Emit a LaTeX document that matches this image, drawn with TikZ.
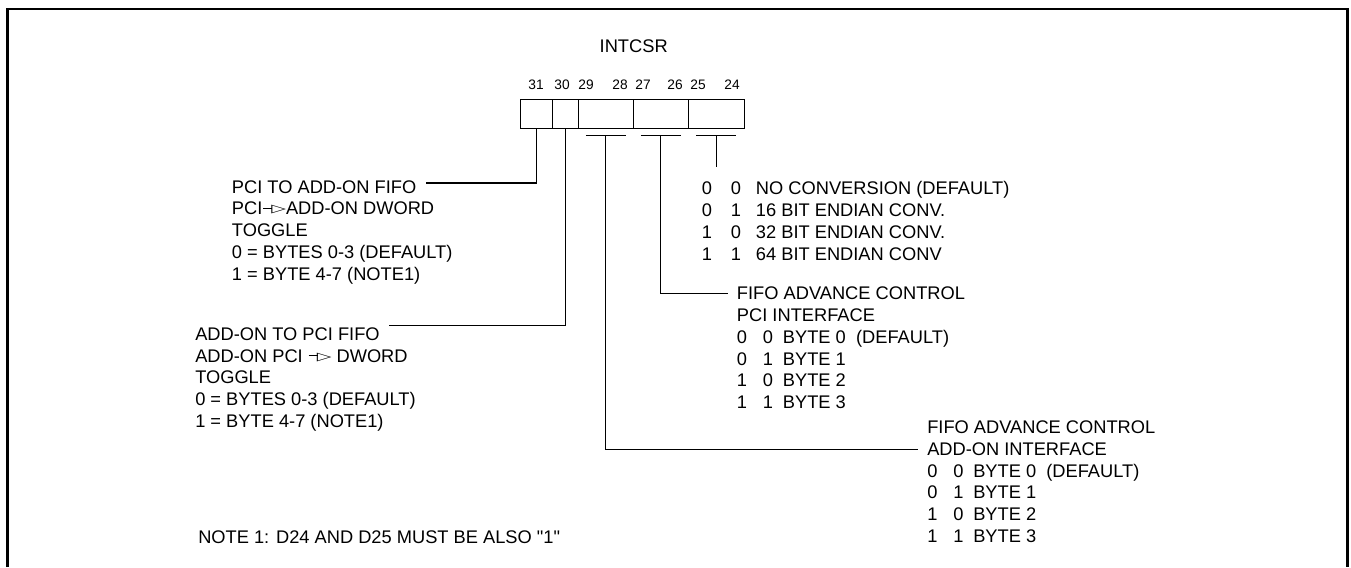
\documentclass[tikz,border=0pt]{standalone}
\usepackage{fontspec}
\setmainfont{Liberation Sans}[Ligatures=TeXOff]
\newfontfamily\symfont{DejaVu Sans}
\usetikzlibrary{positioning}
\newcommand{\opento}{\kern0.5pt\rule[4.6pt]{7pt}{0.75pt}\kern-0.8pt\raisebox{1.6pt}{\resizebox*{11pt}{6.6pt}{\symfont ▷}}}
\newcommand{\convrow}[3]{\makebox[21.75pt][l]{#1}\makebox[18.75pt][l]{#2}#3}
\newcommand{\byterow}[3]{\makebox[19.5pt][l]{#1}\makebox[15pt][l]{#2}#3}
\tikzset{
  field/.style={rectangle, draw, line width=1pt, minimum height=21.75pt, inner sep=0pt, outer sep=0pt},
  bitno/.style={font=\fontsize{10.3}{12}\selectfont, inner sep=0pt},
  txt/.style={font=\fontsize{13.7}{16.3}\selectfont, align=left, inner sep=0pt, anchor=base west},
  leader/.style={line width=1pt, shorten >=6.75pt},
  tbar/.style={line width=1pt},
  frameline/.style={line width=1.8pt}
}

\begin{document}
\begin{tikzpicture}[x=0.75pt, y=-0.75pt]
  \useasboundingbox (0,0) rectangle (1351,567);
  \draw[frameline] (7.5,567) -- (7.5,9) -- (1347.5,9) -- (1347.5,567);

  \node[txt, anchor=center] (reg) at (633.7,46.7) {INTCSR};

  % register fields
  \node[field, minimum width=23.7pt] (f31) at (536.5,113.8) {};
  \node[field, minimum width=19.5pt, right=0pt of f31] (f30) {};
  \node[field, minimum width=41.25pt, right=0pt of f30] (f2928) {};
  \node[field, minimum width=41.25pt, right=0pt of f2928] (f2726) {};
  \node[field, minimum width=42pt, right=0pt of f2726] (f2524) {};

  \foreach \b/\x in {31/536,30/562,29/586,28/620,27/643,26/675,25/698,24/732}
    \node[bitno] (n\b) at (\x,85) {\b};

  % tee bars under the two-bit fields
  \foreach \f in {f2928,f2726,f2524}
    \draw[tbar] ([shift={(-20,7)}]\f.south) -- ([shift={(20,7)}]\f.south);

  % bit 31 (rows node sits on its last line)
  \node[txt] (pcififo) at (231.7,193.2) {PCI TO ADD-ON FIFO};
  \node[txt] (pcitoggle) at ([yshift=-65.2pt]pcififo.base west)
    {PCI\opento ADD-ON DWORD\\TOGGLE\\0 = BYTES 0-3 (DEFAULT)\\1 = BYTE 4-7 (NOTE1)};
  \draw[leader] (f31.south) |- ([yshift=3pt]pcififo.east);

  % bit 30
  \node[txt] (addpcififo) at (195,340.5) {ADD-ON TO PCI FIFO};
  \node[txt] (addtoggle) at ([yshift=-65.2pt]addpcififo.base west)
    {ADD-ON PCI \opento{} DWORD\\TOGGLE\\0 = BYTES 0-3 (DEFAULT)\\1 = BYTE 4-7 (NOTE1)};
  \draw[leader] (f30.south) |- ([yshift=6.75pt]addpcififo.east);

  % bits 25-24
  \node[txt] (conv) at (701.7,260)
    {\convrow{0}{0}{NO CONVERSION (DEFAULT)}\\\convrow{0}{1}{16 BIT ENDIAN CONV.}\\
     \convrow{1}{0}{32 BIT ENDIAN CONV.}\\\convrow{1}{1}{64 BIT ENDIAN CONV}};
  \coordinate (convtop) at (716.3,167.3);
  \draw[tbar] ([yshift=-5.25pt]f2524.south) -- (convtop);

  % bits 27-26
  \node[txt] (pcihead) at (736.7,299.8) {FIFO ADVANCE CONTROL};
  \node[txt] (pcirows) at ([yshift=-81.5pt]pcihead.base west)
    {PCI INTERFACE\\\byterow{0}{0}{BYTE 0\ \ (DEFAULT)}\\\byterow{0}{1}{BYTE 1}\\
     \byterow{1}{0}{BYTE 2}\\\byterow{1}{1}{BYTE 3}};
  \draw[leader] ([yshift=-5.25pt]f2726.south) |- (pcihead.west);

  % bits 29-28
  \node[txt] (addiface) at (927,455.5) {ADD-ON INTERFACE};
  \node[txt] (addhead) at ([yshift=16.3pt]addiface.base west) {FIFO ADVANCE CONTROL};
  \node[txt] (addrows) at ([yshift=-65.2pt]addiface.base west)
    {\byterow{0}{0}{BYTE 0\ \ (DEFAULT)}\\\byterow{0}{1}{BYTE 1}\\
     \byterow{1}{0}{BYTE 2}\\\byterow{1}{1}{BYTE 3}};
  \draw[leader] ([yshift=-5.25pt]f2928.south) |- (addiface.west);

  \node[txt] (note) at (198,543.5) {NOTE 1: D24 AND D25 MUST BE ALSO "1"};
\end{tikzpicture}
\end{document}
